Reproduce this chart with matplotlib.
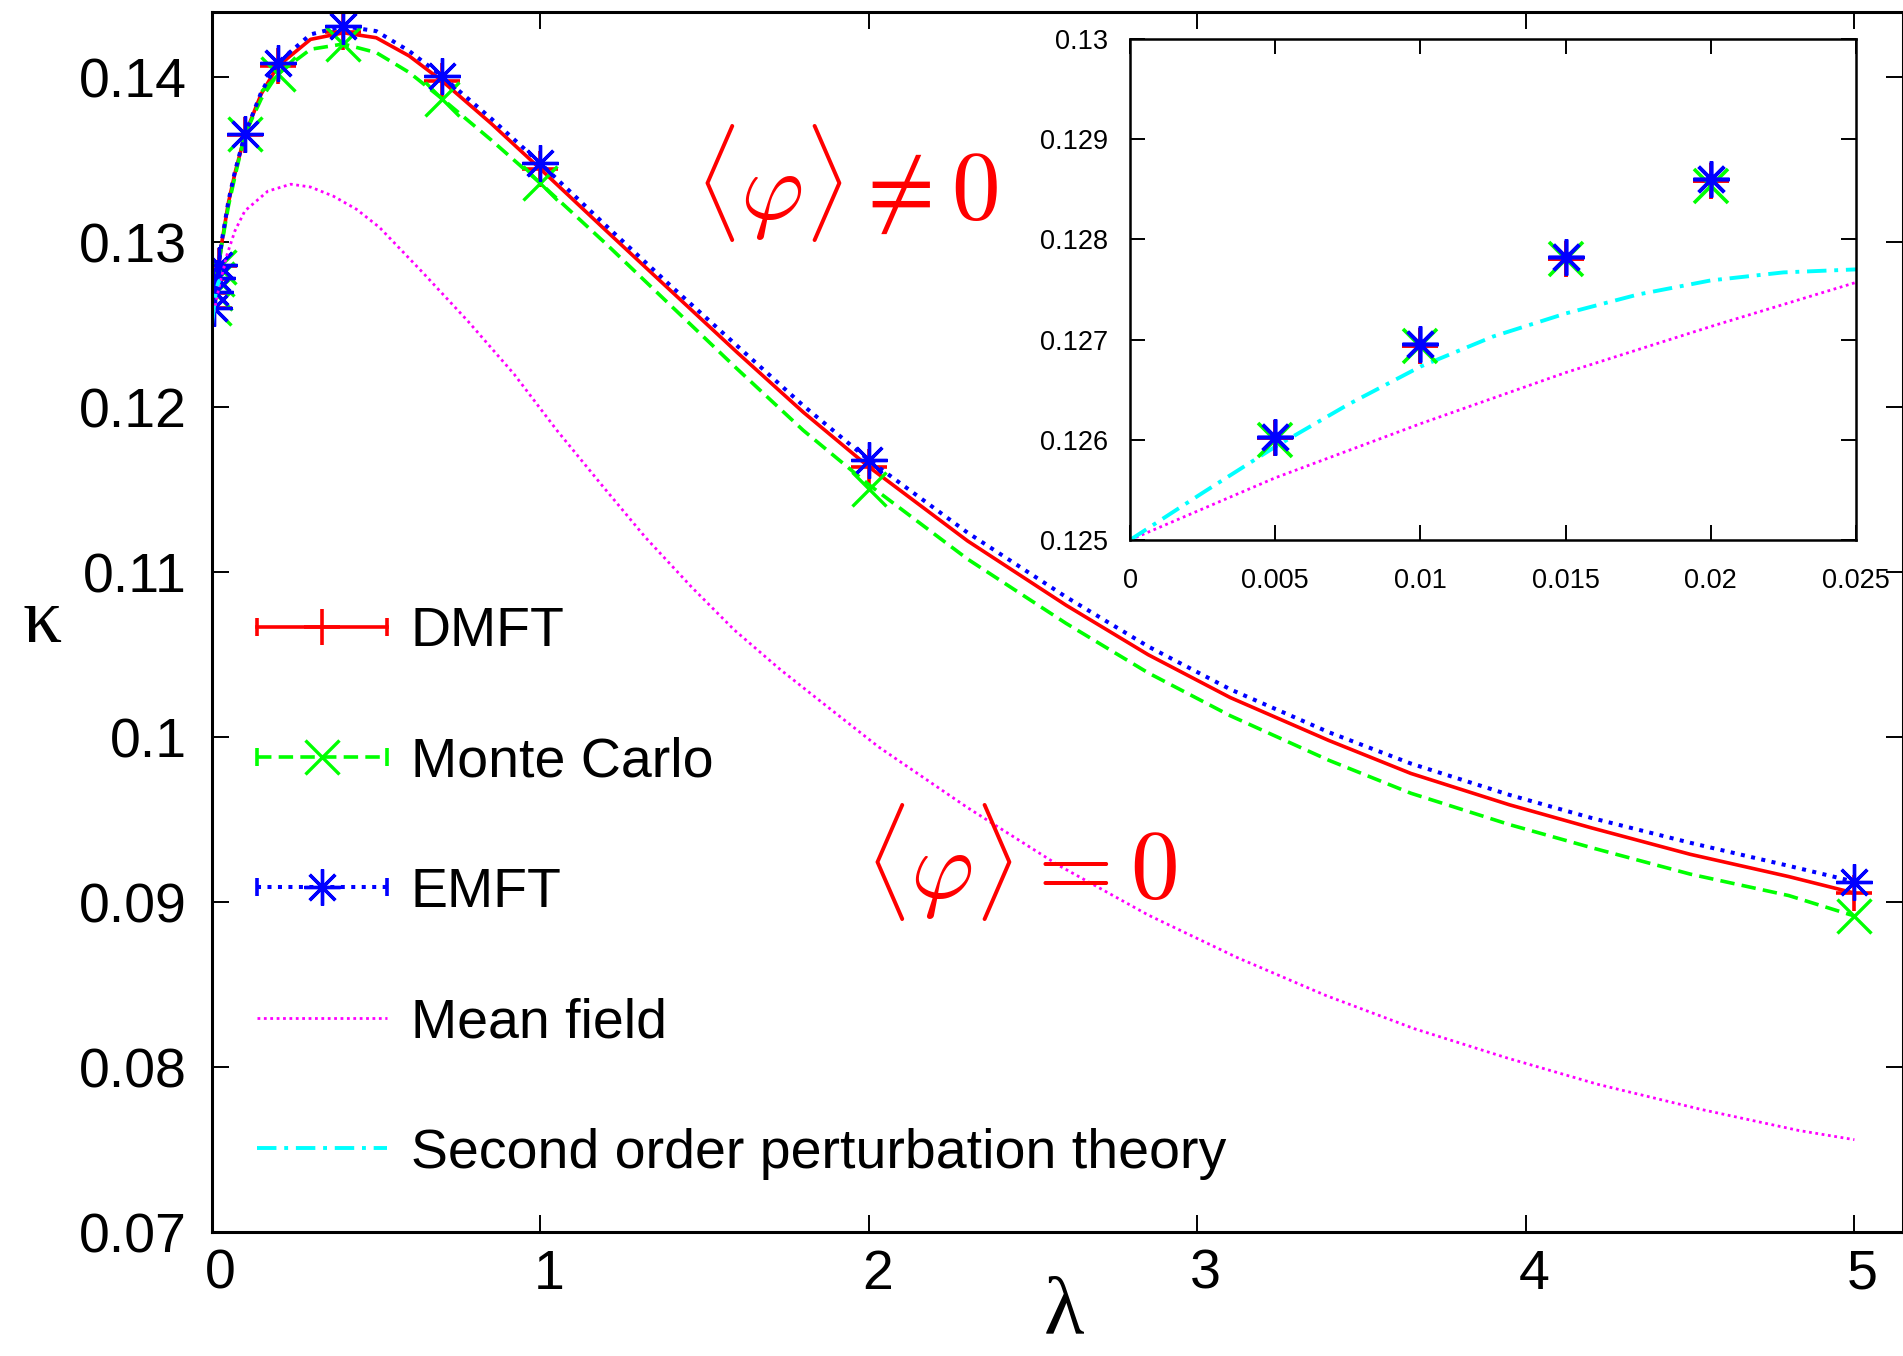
import numpy as np
import matplotlib
matplotlib.use("Agg")
import matplotlib.pyplot as plt
from matplotlib.lines import Line2D
from matplotlib.legend_handler import HandlerLine2D, HandlerTuple
from matplotlib.transforms import ScaledTranslation

plt.rcParams['font.family'] = ['Liberation Sans', 'DejaVu Sans']
plt.rcParams['mathtext.fontset'] = 'cm'

# lambda grid of the smooth curves
lam_curve = [0, 0.005, 0.01, 0.015, 0.02, 0.03, 0.05, 0.07, 0.1, 0.15, 0.2, 0.3, 0.4, 0.5, 0.6,
             0.7, 0.85, 1.0, 1.2, 1.4, 1.6, 1.8, 2.0, 2.3, 2.6, 2.85, 3.1, 3.4, 3.65,
             3.95, 4.2, 4.5, 4.8, 5.0]
dmft_curve = [0.1252, 0.1260, 0.12694, 0.1278, 0.12857, 0.1300, 0.1324, 0.1342, 0.1365, 0.1390,
              0.14067, 0.1423, 0.1427, 0.1424, 0.1413, 0.13979, 0.1372, 0.13444, 0.1307, 0.1270,
              0.1233, 0.1197, 0.11638, 0.1119, 0.1080, 0.1050, 0.1024, 0.0998, 0.0978, 0.0959,
              0.0945, 0.0929, 0.09155, 0.09055]
mc_curve = [0.1252, 0.1260, 0.12692, 0.12778, 0.12853, 0.1299, 0.1322, 0.1340, 0.13654, 0.1387,
            0.1402, 0.1417, 0.14202, 0.1415, 0.1403, 0.13871, 0.1362, 0.13357, 0.1299, 0.1261,
            0.1223, 0.1186, 0.1153, 0.1108, 0.1069, 0.1039, 0.1013, 0.0986, 0.0966, 0.0947,
            0.0933, 0.0917, 0.0904, 0.08916]
emft_curve = [0.1252, 0.12603, 0.12696, 0.12782, 0.1286, 0.1301, 0.1325, 0.1343, 0.13654, 0.1391,
              0.14088, 0.1426, 0.1431, 0.1428, 0.1416, 0.14007, 0.1375, 0.13478, 0.1310, 0.1273,
              0.1237, 0.1201, 0.11679, 0.1124, 0.1085, 0.1055, 0.1029, 0.1003, 0.0984, 0.0965,
              0.0951, 0.0936, 0.0922, 0.09124]

# data points (markers)
lam_pts = [0.005, 0.01, 0.015, 0.02, 0.1, 0.2, 0.4, 0.7, 1.0, 2.0, 5.0]
dmft_pts = [0.12602, 0.12694, 0.12780, 0.12858, 0.1365, 0.14067, 0.14273, 0.13979, 0.13444, 0.11638, 0.09055]
mc_pts = [0.12600, 0.12694, 0.12780, 0.12853, 0.13654, 0.1402, 0.14202, 0.13871, 0.13357, 0.11503, 0.08916]
emft_pts = [0.12603, 0.12696, 0.12782, 0.12860, 0.13654, 0.14088, 0.1431, 0.14007, 0.13478, 0.11679, 0.09124]

# mean field
lam_mf = [0, 0.005, 0.01, 0.015, 0.02, 0.025, 0.045, 0.07, 0.1, 0.17, 0.24, 0.3, 0.37, 0.44,
          0.51, 0.64, 0.78, 0.92, 1.05, 1.19, 1.32, 1.46, 1.59, 1.73, 1.87, 2.03, 2.3, 2.58,
          2.85, 3.12, 3.39, 3.66, 3.94, 4.22, 4.53, 4.83, 5.0]
kappa_mf = [0.1250, 0.12562, 0.12616, 0.12667, 0.12713, 0.12757, 0.1292, 0.1307, 0.1319, 0.1331,
            0.13352, 0.13335, 0.13279, 0.13200, 0.1309, 0.1282, 0.1252, 0.1220, 0.1186, 0.1152,
            0.1121, 0.1091, 0.1065, 0.1041, 0.1019, 0.0994, 0.09573, 0.0922, 0.08922, 0.08665,
            0.08435, 0.08233, 0.08057, 0.07895, 0.07745, 0.07616, 0.0756]

# second order perturbation theory
lam_pt = [0, 0.0025, 0.005, 0.0075, 0.01, 0.0125, 0.015, 0.0175, 0.02, 0.0225, 0.025]
kappa_pt = [0.125, 0.12547, 0.12593, 0.12635, 0.12673, 0.12703, 0.12726, 0.12745, 0.12759, 0.12767, 0.12770]

names = ["DMFT", "Monte Carlo", "EMFT", "Mean field", "Second order perturbation theory"]

xticks = [0, 1, 2, 3, 4, 5]
xtick_labels = ["0", "1", "2", "3", "4", "5"]
yticks = [0.07, 0.08, 0.09, 0.10, 0.11, 0.12, 0.13, 0.14]
ytick_labels = ["0.07", "0.08", "0.09", "0.1", "0.11", "0.12", "0.13", "0.14"]
in_xticks = [0, 0.005, 0.01, 0.015, 0.02, 0.025]
in_xtick_labels = ["0", "0.005", "0.01", "0.015", "0.02", "0.025"]
in_yticks = [0.125, 0.126, 0.127, 0.128, 0.129, 0.13]
in_ytick_labels = ["0.125", "0.126", "0.127", "0.128", "0.129", "0.13"]

red, green, blue, magenta, cyan = "#ff0000", "#00ff00", "#0000ff", "#ff00ff", "#00ffff"
star = (8, 2, 0)
ls_mc = (0, (4, 2))
ls_emft = (0, (1, 1.6))
ls_mf = (0, (1, 1.3))
ls_pt = (0, (5, 2, 1, 2))
lw_red, lw_mc, lw_emft, lw_mf, lw_pt = 2.6, 2.6, 2.9, 2.0, 2.8

fig = plt.figure(figsize=(19.03, 13.56), dpi=100)
ax = fig.add_axes([0.1114, 0.0914, 0.8886, 0.9000])

ax.plot(lam_curve, dmft_curve, color=red, lw=lw_red)
ax.plot(lam_pts, dmft_pts, ls="none", color=red, marker="+", ms=26, mew=2.6)
ax.plot(lam_curve, mc_curve, color=green, lw=lw_mc, ls=ls_mc)
ax.plot(lam_pts, mc_pts, ls="none", color=green, marker="x", ms=24, mew=2.4)
ax.plot(lam_curve, emft_curve, color=blue, lw=lw_emft, ls=ls_emft)
ax.plot(lam_pts, emft_pts, ls="none", color=blue, marker=star, ms=26, mew=2.4)
ax.plot(lam_mf, kappa_mf, color=magenta, lw=lw_mf, ls=ls_mf)
ax.plot(lam_pt, kappa_pt, color=cyan, lw=lw_pt, ls=ls_pt)

ax.set_xlim(0, 5.148)
ax.set_ylim(0.07, 0.14398)
ax.set_xticks(xticks, labels=xtick_labels)
ax.set_yticks(yticks, labels=ytick_labels)
ax.tick_params(direction="in", length=12, width=1.4, top=True, right=True, labelsize=40)
ax.tick_params(axis="y", pad=18)
ax.tick_params(axis="x", pad=12)
for sp in ax.spines.values():
    sp.set_linewidth(2.2)
offset = ScaledTranslation(6 / 72, 0, fig.dpi_scale_trans)
for t in ax.xaxis.get_major_ticks():
    t.label1.set_transform(t.label1.get_transform() + offset)

ax.text(1.93, 0.1336, r"$\langle\varphi\rangle \neq 0$", color=red, fontsize=70, ha="center", va="center")
ax.text(2.463, 0.09246, r"$\langle\varphi\rangle = 0$", color=red, fontsize=70, ha="center", va="center")

fig.text(0.0221, 0.5265, "κ", family="Liberation Serif", fontsize=56, ha="center", va="baseline")
fig.text(0.5591, 0.017, "λ", family="Liberation Serif", fontsize=60, ha="center", va="baseline")

# legend with gnuplot-like errorline samples
caps = [Line2D([], [], color=c, ls="none", marker="|", ms=13, mew=2.6) for c in (red, green, blue)]
h_dmft = (Line2D([], [], color=red, lw=lw_red, marker="+", ms=26, mew=2.6), caps[0])
h_mc = (Line2D([], [], color=green, lw=lw_mc, ls=ls_mc, marker="x", ms=24, mew=2.4), caps[1])
h_emft = (Line2D([], [], color=blue, lw=lw_emft, ls=ls_emft, marker=star, ms=26, mew=2.4), caps[2])
h_mf = Line2D([], [], color=magenta, lw=lw_mf, ls=ls_mf)
h_pt = Line2D([], [], color=cyan, lw=lw_pt, ls=ls_pt)
hmap = {tuple: HandlerTuple(ndivide=1, pad=0)}
for c in caps:
    hmap[c] = HandlerLine2D(numpoints=2, marker_pad=0)
ax.legend(handles=[h_dmft, h_mc, h_emft, h_mf, h_pt], labels=names, handler_map=hmap,
          loc="upper left", bbox_to_anchor=(0.0266, 0.5128), frameon=False, fontsize=40,
          handlelength=2.34, handletextpad=0.43, labelspacing=1.41, borderpad=0,
          borderaxespad=0, numpoints=1)

# inset
axi = fig.add_axes([0.5938, 0.6018, 0.3815, 0.3695])
axi.set_facecolor("white")
axi.plot(lam_mf, kappa_mf, color=magenta, lw=lw_mf, ls=ls_mf)
axi.plot(lam_pt, kappa_pt, color=cyan, lw=lw_pt, ls=ls_pt)
axi.plot(lam_pts, dmft_pts, ls="none", color=red, marker="+", ms=26, mew=2.8)
axi.plot(lam_pts, mc_pts, ls="none", color=green, marker="x", ms=24, mew=2.6)
axi.plot(lam_pts, emft_pts, ls="none", color=blue, marker=star, ms=26, mew=2.6)
axi.set_xlim(0, 0.025)
axi.set_ylim(0.125, 0.13)
axi.set_xticks(in_xticks, labels=in_xtick_labels)
axi.set_yticks(in_yticks, labels=in_ytick_labels)
axi.tick_params(direction="in", length=11, width=1.4, top=True, right=True, labelsize=19.5)
axi.tick_params(axis="y", pad=16)
axi.tick_params(axis="x", pad=20)
for sp in axi.spines.values():
    sp.set_linewidth(1.8)

fig.savefig("out.png", dpi=100)
